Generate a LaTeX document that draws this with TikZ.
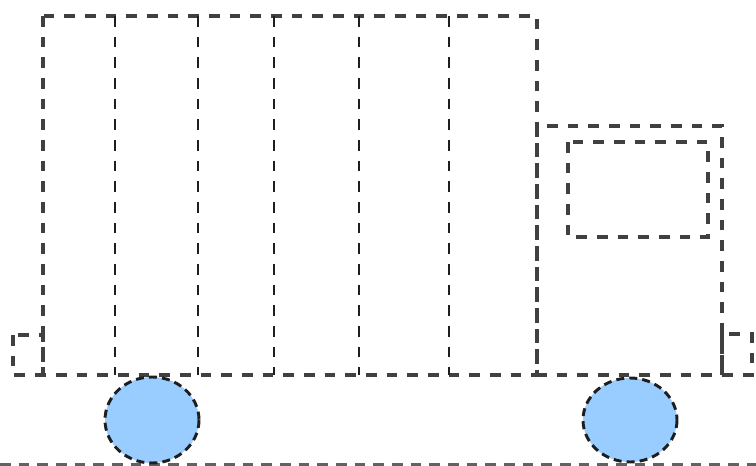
\documentclass[tikz,border=0pt]{standalone}
\definecolor{linec}{HTML}{1E1E1E}
\definecolor{wheelc}{HTML}{99CCFF}
\tikzset{
  outline/.style={draw=linec!85, line width=2.4pt, dash pattern=on 8pt off 7.5pt, line join=miter},
  divider/.style={draw=linec, line width=2.1pt, dash pattern=on 8pt off 7.5pt},
  wheel/.style={draw=linec, fill=wheelc, line width=2.2pt, dash pattern=on 6pt off 3.8pt},
  ground/.style={draw=linec!70, line width=2.4pt, dash pattern=on 8pt off 6pt}
}
\begin{document}
\begin{tikzpicture}[x=0.75pt,y=-0.75pt]
\useasboundingbox (0,0) rectangle (756,466);
% ground
\draw[ground] (0,465) -- (756,465);
% cargo box
\draw[outline] (43,16) rectangle (537,375);
\foreach \xx in {115,198,274,359,449}
  \draw[divider] (\xx,16) -- (\xx,375);
% cab
\draw[outline] (537,126) rectangle (722,375);
% window
\draw[outline] (568,142) rectangle (708,237);
% bumpers
\draw[outline] (13,335) rectangle (43,375);
\draw[outline] (722,334) rectangle (752,375);
% wheels
\draw[wheel] (152,420) ellipse [x radius=47, y radius=43];
\draw[wheel] (630,420) ellipse [x radius=47, y radius=42];
\end{tikzpicture}
\end{document}
